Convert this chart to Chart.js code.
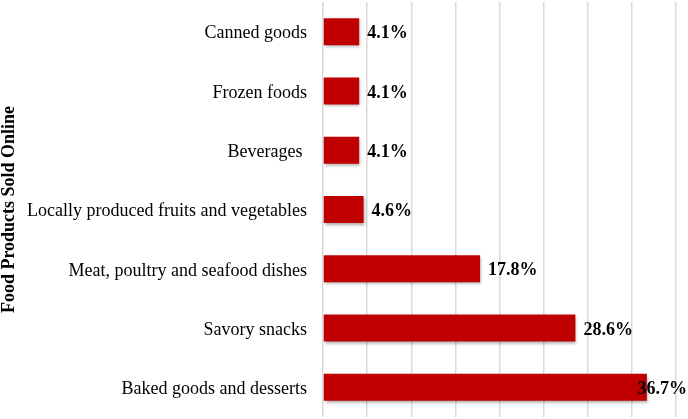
<!DOCTYPE html>
<html>
<head>
<meta charset="utf-8">
<script src="https://cdn.jsdelivr.net/npm/chart.js@4.4.1/dist/chart.umd.min.js"></script>
<style>
html,body{margin:0;padding:0;background:#fff;}
#wrap{width:688px;height:419px;position:relative;}
</style>
</head>
<body>
<div id="wrap"><canvas id="c" width="688" height="419"></canvas></div>
<script>
const categories = ["Canned goods", "Frozen foods", "Beverages ", "Locally produced fruits and vegetables", "Meat, poultry and seafood dishes", "Savory snacks", "Baked goods and desserts"];
const values = [4.1, 4.1, 4.1, 4.6, 17.8, 28.6, 36.7];
const valueLabels = ["4.1%", "4.1%", "4.1%", "4.6%", "17.8%", "28.6%", "36.7%"];
const axisTitle = "Food Products Sold Online";

const FONT = "'Liberation Serif', 'Times New Roman', serif";

const shadowPlugin = {
  id: 'barShadow',
  beforeDatasetDraw(chart) {
    const ctx = chart.ctx;
    ctx.save();
    ctx.shadowColor = 'rgba(0,0,0,0.35)';
    ctx.shadowBlur = 3;
    ctx.shadowOffsetX = 1;
    ctx.shadowOffsetY = 2;
  },
  afterDatasetDraw(chart) {
    chart.ctx.restore();
  }
};

const labelPlugin = {
  id: 'valLabels',
  afterDatasetsDraw(chart) {
    const ctx = chart.ctx;
    const meta = chart.getDatasetMeta(0);
    ctx.save();
    ctx.font = "bold 18px " + FONT;
    ctx.fillStyle = '#000';
    ctx.textBaseline = 'middle';
    ctx.textAlign = 'left';
    meta.data.forEach((bar, i) => {
      const t = valueLabels[i];
      const w = ctx.measureText(t).width;
      let x = bar.x + 8;
      if (x + w > chart.width - 1) x = chart.width - 1 - w;
      ctx.fillText(t, x, bar.y + 2);
    });
    ctx.restore();
  }
};

new Chart(document.getElementById('c'), {
  type: 'bar',
  data: {
    labels: categories,
    datasets: [{
      data: values,
      backgroundColor: '#C00000',
      borderWidth: 0,
      categoryPercentage: 1,
      barPercentage: 0.455
    }]
  },
  options: {
    indexAxis: 'y',
    responsive: false,
    animation: false,
    devicePixelRatio: 1,
    layout: { padding: { top: 2, bottom: 2, right: 12, left: 0 } },
    plugins: { legend: { display: false }, tooltip: { enabled: false } },
    scales: {
      x: {
        min: 0, max: 40,
        ticks: { display: false, stepSize: 5 },
        grid: { color: '#d9d9d9', lineWidth: 1.5, drawTicks: false },
        border: { display: false },
        afterFit(s) { s.height = 0; s.paddingLeft = 0; s.paddingRight = 0; }
      },
      y: {
        grid: { display: false, drawTicks: false },
        border: { display: false },
        ticks: { color: '#000', font: { family: FONT, size: 18 }, padding: 16, labelOffset: 2 },
        title: {
          display: true, text: axisTitle, color: '#000',
          font: { family: FONT, size: 18, weight: 'bold', lineHeight: 1 },
          padding: { top: 0, bottom: 0 }
        },
        afterFit(s) { s.width = 323; s.paddingTop = 0; s.paddingBottom = 0; }
      }
    }
  },
  plugins: [shadowPlugin, labelPlugin]
});
</script>
</body>
</html>
